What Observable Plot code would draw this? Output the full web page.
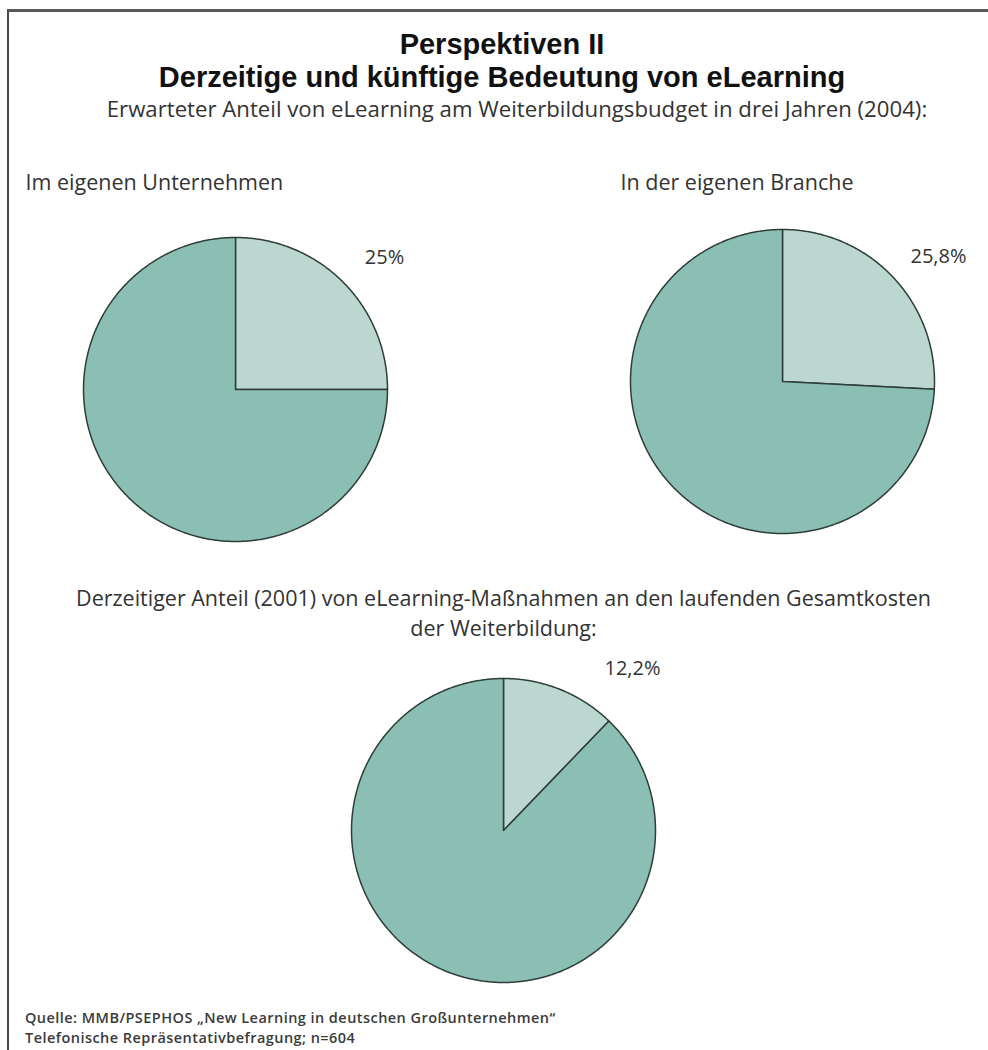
<!DOCTYPE html>
<html>
<head>
<meta charset="utf-8">
<script src="https://cdn.jsdelivr.net/npm/d3@7"></script>
<script src="https://cdn.jsdelivr.net/npm/@observablehq/plot@0.6"></script>
<style>
  html, body { margin: 0; padding: 0; background: #fff; }
  #page { position: relative; width: 988px; height: 1050px; overflow: hidden; background: #fff; }
  #frame { position: absolute; left: 7px; top: 9px; right: -10px; bottom: -10px;
           border-top: 3px solid #585858; border-left: 2px solid #4a4a4a; }
  #title { position: absolute; left: 0; top: 28px; width: 1004px; text-align: center;
           font-family: "Liberation Sans", Arial, sans-serif; font-weight: bold; font-size: 29px;
           line-height: 33px; color: #111; }
  #subtitle { position: absolute; left: 0; top: 94px; width: 1034px; text-align: center;
           font-family: "Open Sans", sans-serif; font-size: 22.2px; line-height: 30px; color: #333; }
  #chart { position: absolute; left: 0; top: 150px; }
  #footer { position: absolute; left: 25px; top: 1008px; font-family: "Open Sans", sans-serif;
           font-size: 14.5px; font-weight: 600; letter-spacing: 0.45px; line-height: 20px; color: #3a3a3a; }
</style>
</head>
<body>
<div id="page">
  <div id="frame"></div>
  <div id="title"></div>
  <div id="subtitle"></div>
  <div id="chart"></div>
  <div id="footer"></div>
</div>
<script>
// ---- data ----
const titleLines = ["Perspektiven II", "Derzeitige und künftige Bedeutung von eLearning"];
const subtitle = "Erwarteter Anteil von eLearning am Weiterbildungsbudget in drei Jahren (2004):";
const pieTitles = ["Im eigenen Unternehmen", "In der eigenen Branche",
  "Derzeitiger Anteil (2001) von eLearning-Maßnahmen an den laufenden Gesamtkosten\nder Weiterbildung:"];
const eLearningShare = [25, 25.8, 12.2];           // percent
const shareLabels = ["25%", "25,8%", "12,2%"];
const sliceKinds = ["eLearning", "übrige"];
const footerLines = ["Quelle: MMB/PSEPHOS „New Learning in deutschen Großunternehmen“",
  "Telefonische Repräsentativbefragung; n=604"];

// ---- layout (page pixel coordinates) ----
const pieCenters = [[235, 389], [782, 381], [503, 830]];
const pieRadius = 152;
const labelPos = [[384, 257], [938, 256], [632, 668]];
const titlePos = [[25, 183, "start"], [620, 183, "start"], [503, 598.5, "middle"]];
const titleLineGap = 30;
const colors = ["#bbd7d0", "#8bbfb3"];

document.getElementById("title").innerHTML = titleLines.join("<br>");
document.getElementById("subtitle").textContent = subtitle;
document.getElementById("footer").innerHTML = footerLines.join("<br>");

// build wedge polygons from the values
const pieGen = d3.pie().sort(null).value(d => d);
const wedgePoints = [];
eLearningShare.forEach((share, i) => {
  const [cx, cy] = pieCenters[i];
  const arcs = pieGen([share, 100 - share]);
  arcs.forEach((a, j) => {
    const id = `p${i}-${j}`;
    wedgePoints.push({id, kind: sliceKinds[j], x: cx, y: cy});
    const n = Math.max(2, Math.ceil((a.endAngle - a.startAngle) / (Math.PI / 360)));
    for (let k = 0; k <= n; k++) {
      const t = a.startAngle + (a.endAngle - a.startAngle) * k / n;
      wedgePoints.push({id, kind: sliceKinds[j], x: cx + pieRadius * Math.sin(t), y: cy - pieRadius * Math.cos(t)});
    }
  });
});

// pie titles, one text per line
const pieTitleData = [];
pieTitles.forEach((t, i) => {
  t.split("\n").forEach((line, k) => {
    pieTitleData.push({text: line, x: titlePos[i][0], y: titlePos[i][1] + k * titleLineGap, anchor: titlePos[i][2]});
  });
});
const shareLabelData = shareLabels.map((t, i) => ({text: t, x: labelPos[i][0], y: labelPos[i][1]}));

const plot = Plot.plot({
  width: 988,
  height: 850,
  margin: 0,
  style: {background: "transparent", overflow: "visible"},
  x: {axis: null, domain: [0, 988], range: [0, 988]},
  y: {axis: null, domain: [150, 1000], range: [0, 850]},
  color: {domain: sliceKinds, range: colors},
  marks: [
    Plot.line(wedgePoints, {x: "x", y: "y", z: "id", fill: "kind", stroke: "#2e3d39",
      strokeWidth: 1.5, curve: "linear-closed"}),
    Plot.text(pieTitleData.filter(d => d.anchor === "start"), {x: "x", y: "y", text: "text",
      textAnchor: "start", fontSize: 21.5, fill: "#333", fontFamily: "Open Sans"}),
    Plot.text(pieTitleData.filter(d => d.anchor === "middle"), {x: "x", y: "y", text: "text",
      textAnchor: "middle", fontSize: 21.5, fill: "#333", fontFamily: "Open Sans"}),
    Plot.text(shareLabelData, {x: "x", y: "y", text: "text", textAnchor: "middle",
      fontSize: 20, fill: "#333", fontFamily: "Open Sans"})
  ]
});
document.getElementById("chart").appendChild(plot);
</script>
</body>
</html>
